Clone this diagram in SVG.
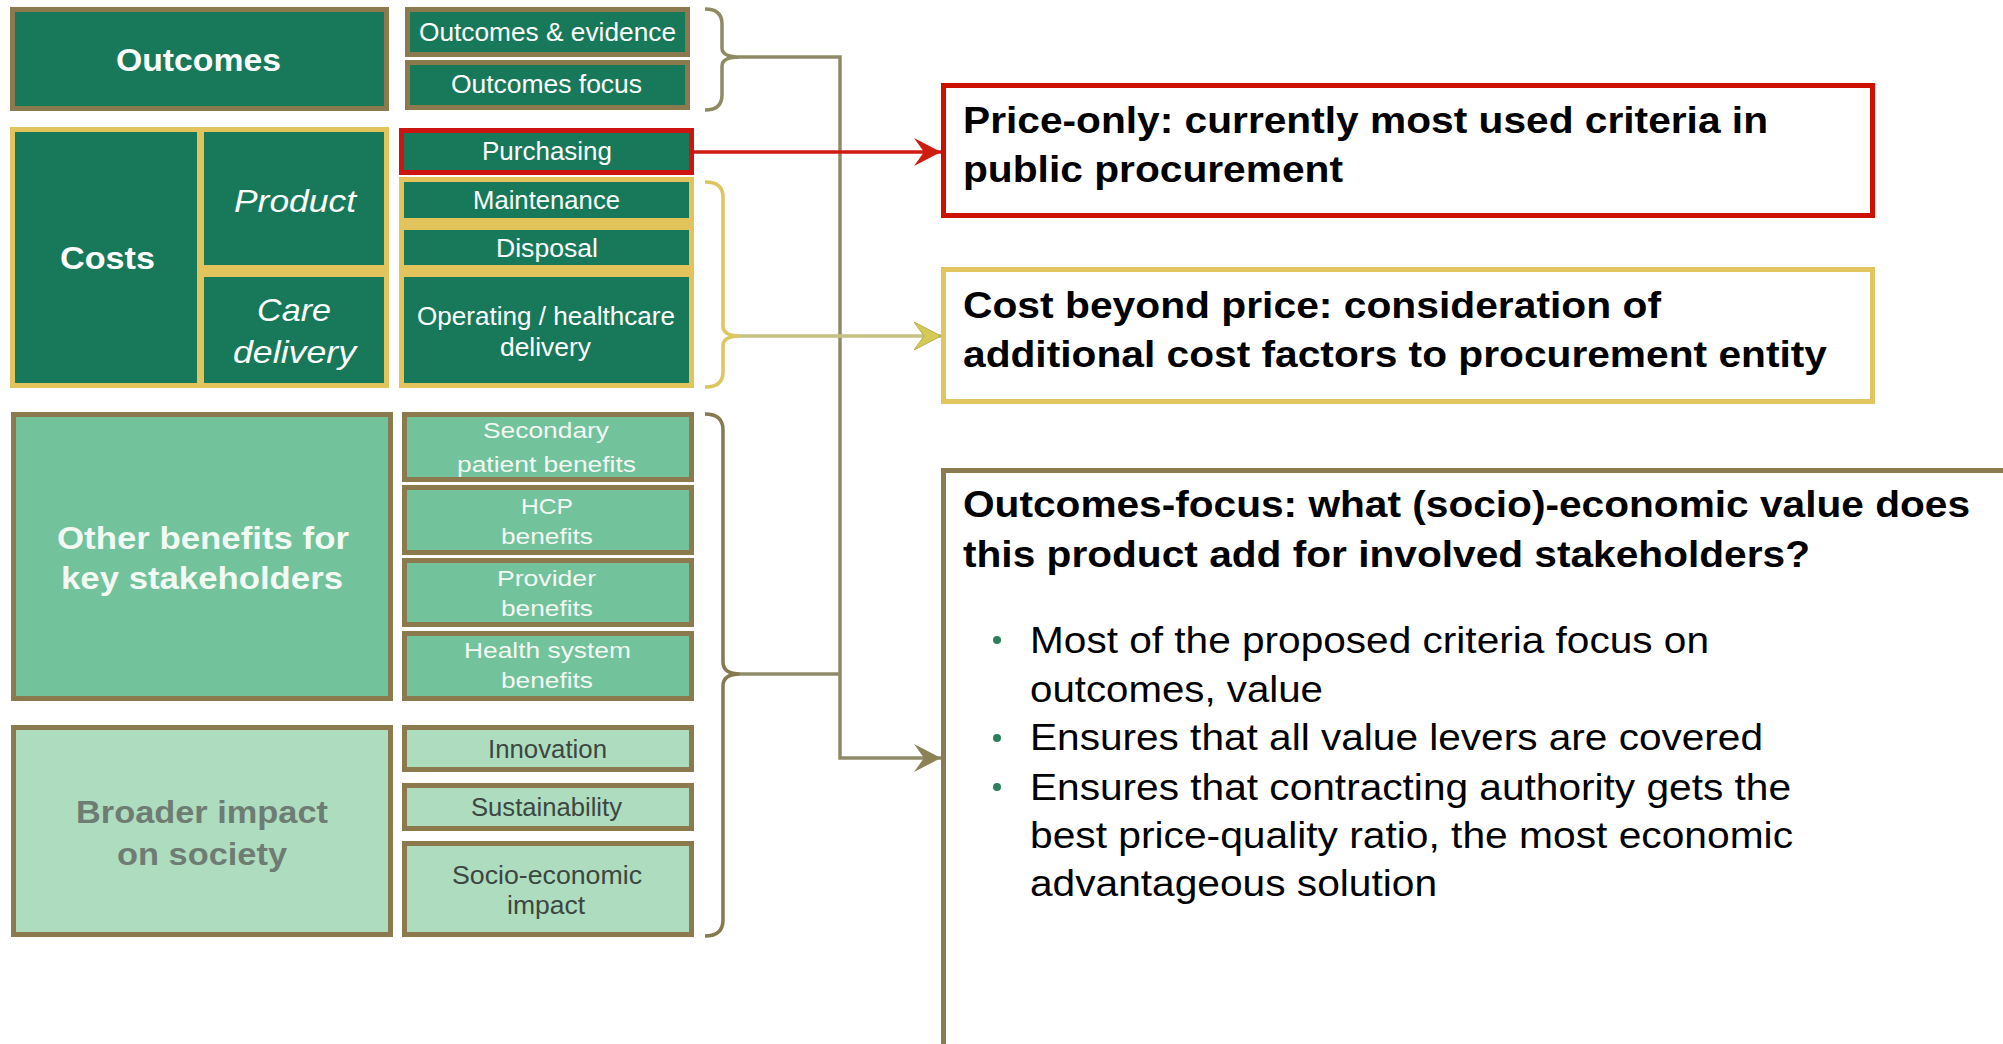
<svg xmlns="http://www.w3.org/2000/svg" width="2003" height="1044" viewBox="0 0 2003 1044">
<style>
text{font-family:"Liberation Sans",Arial,sans-serif}
.dg{fill:#17795A}
.ol{stroke:#8A7A4E;stroke-width:5}
.yb{fill:#E2C35C}
.mg{fill:#72C29C}
.lg{fill:#AEDCBF}
.w{fill:#FFFFFF}
.wl{fill:#F3F9F3}
.b{font-weight:bold}
.it{font-style:italic}
.s25{font-size:25px}
.s22{font-size:22px}
.s26{font-size:26px}
.s32{font-size:32px}
.gy{fill:#6E7D73}
.dk{fill:#3C4741}
.tt{font-size:36px;font-weight:bold;fill:#000}
.bl{font-size:36px;fill:#000}
.con{fill:none;stroke-width:3.5}
</style>
<defs>
<marker id="arrRed" markerUnits="userSpaceOnUse" markerWidth="32" markerHeight="32" viewBox="-28 -16 30 32" refX="0" refY="0" orient="auto"><path d="M0,0 L-27,-14 L-17,0 L-27,14 Z" fill="#CF1B10"/></marker>
<marker id="arrYel" markerUnits="userSpaceOnUse" markerWidth="32" markerHeight="32" viewBox="-28 -16 30 32" refX="0" refY="0" orient="auto"><path d="M0,0 L-27,-14 L-17,0 L-27,14 Z" fill="#D3CB58" stroke="#B8AE48" stroke-width="1"/></marker>
<marker id="arrOl" markerUnits="userSpaceOnUse" markerWidth="32" markerHeight="32" viewBox="-28 -16 30 32" refX="0" refY="0" orient="auto"><path d="M0,0 L-27,-14 L-17,0 L-27,14 Z" fill="#8C8256"/></marker>
</defs>

<g id="connectors">
<path class="con" stroke="#8E8A62" d="M705,9 Q722,9 722,24 V48 Q722,57 740,57 Q722,57 722,66 V95 Q722,110 705,110"/>
<path class="con" stroke="#DCC660" d="M705,182 Q723,182 723,197 V326 Q723,336 740,336 Q723,336 723,346 V372 Q723,387 705,387"/>
<path class="con" stroke="#857A50" d="M705,414 Q723,414 723,430 V662 Q723,674 740,674 Q723,674 723,686 V920 Q723,936 705,936"/>
<path class="con" stroke="#8E8C68" d="M740,57 H840 V758 H941" marker-end="url(#arrOl)"/>
<path class="con" stroke="#8E8C68" d="M740,674 H840"/>
<path class="con" stroke="#CF1B10" d="M694,152 H941" marker-end="url(#arrRed)"/>
<path class="con" stroke="#C4C283" d="M740,336 H941" marker-end="url(#arrYel)"/>
</g>

<g id="outcomes">
<rect class="dg ol" x="12.5" y="9.5" width="374" height="99"/>
<text class="w b s32" x="116" y="71" textLength="165" lengthAdjust="spacingAndGlyphs">Outcomes</text>
</g>
<g id="outcomes-evidence">
<rect class="dg ol" x="407.5" y="9.5" width="280" height="45"/>
<text class="w s25" x="419" y="41" textLength="257" lengthAdjust="spacingAndGlyphs">Outcomes &amp; evidence</text>
</g>
<g id="outcomes-focus">
<rect class="dg ol" x="407.5" y="62.5" width="280" height="45"/>
<text class="w s25" x="451" y="93" textLength="191" lengthAdjust="spacingAndGlyphs">Outcomes focus</text>
</g>

<g id="costs-group">
<rect class="yb" x="10" y="127" width="379" height="261"/>
</g>
<g id="costs">
<rect class="dg" x="15" y="132" width="182" height="251"/>
<text class="w b s32" x="60" y="269" textLength="95" lengthAdjust="spacingAndGlyphs">Costs</text>
</g>
<g id="product">
<rect class="dg" x="204" y="132" width="180" height="133"/>
<text class="w it s32" x="234" y="212" textLength="122" lengthAdjust="spacingAndGlyphs">Product</text>
</g>
<g id="care-delivery">
<rect class="dg" x="204" y="277" width="180" height="106"/>
<text class="w it s32" x="257" y="321" textLength="74" lengthAdjust="spacingAndGlyphs">Care</text>
<text class="w it s32" x="233" y="363" textLength="123" lengthAdjust="spacingAndGlyphs">delivery</text>
</g>

<g id="purchasing">
<rect class="dg" x="401.5" y="130.5" width="290" height="42" stroke="#CC1410" stroke-width="5"/>
<text class="w s25" x="482" y="160" textLength="130" lengthAdjust="spacingAndGlyphs">Purchasing</text>
</g>
<g id="cost-items">
<rect class="yb" x="399" y="177" width="295" height="211"/>
</g>
<g id="maintenance">
<rect class="dg" x="404" y="182" width="285" height="36"/>
<text class="w s25" x="473" y="209" textLength="147" lengthAdjust="spacingAndGlyphs">Maintenance</text>
</g>
<g id="disposal">
<rect class="dg" x="404" y="230" width="285" height="35"/>
<text class="w s25" x="496" y="257" textLength="102" lengthAdjust="spacingAndGlyphs">Disposal</text>
</g>
<g id="operating">
<rect class="dg" x="404" y="277" width="285" height="106"/>
<text class="w s25" x="417" y="325" textLength="258" lengthAdjust="spacingAndGlyphs">Operating / healthcare</text>
<text class="w s25" x="500" y="356" textLength="91" lengthAdjust="spacingAndGlyphs">delivery</text>
</g>

<g id="other-benefits">
<rect class="mg ol" x="13.5" y="414.5" width="377" height="284"/>
<text class="wl b s32" x="57" y="549" textLength="292" lengthAdjust="spacingAndGlyphs">Other benefits for</text>
<text class="wl b s32" x="61" y="589" textLength="282" lengthAdjust="spacingAndGlyphs">key stakeholders</text>
</g>
<g id="secondary">
<rect class="mg ol" x="404.5" y="414.5" width="287" height="65"/>
<text class="wl s22" x="483" y="438" textLength="126" lengthAdjust="spacingAndGlyphs">Secondary</text>
<text class="wl s22" x="457" y="472" textLength="179" lengthAdjust="spacingAndGlyphs">patient benefits</text>
</g>
<g id="hcp">
<rect class="mg ol" x="404.5" y="487.5" width="287" height="65"/>
<text class="wl s22" x="521" y="514" textLength="52" lengthAdjust="spacingAndGlyphs">HCP</text>
<text class="wl s22" x="501" y="544" textLength="92" lengthAdjust="spacingAndGlyphs">benefits</text>
</g>
<g id="provider">
<rect class="mg ol" x="404.5" y="560.5" width="287" height="64"/>
<text class="wl s22" x="497" y="586" textLength="99" lengthAdjust="spacingAndGlyphs">Provider</text>
<text class="wl s22" x="501" y="616" textLength="92" lengthAdjust="spacingAndGlyphs">benefits</text>
</g>
<g id="health-system">
<rect class="mg ol" x="404.5" y="633.5" width="287" height="65"/>
<text class="wl s22" x="464" y="658" textLength="167" lengthAdjust="spacingAndGlyphs">Health system</text>
<text class="wl s22" x="501" y="688" textLength="92" lengthAdjust="spacingAndGlyphs">benefits</text>
</g>

<g id="broader-impact">
<rect class="lg ol" x="13.5" y="727.5" width="377" height="207"/>
<text class="gy b s32" x="76" y="823" textLength="252" lengthAdjust="spacingAndGlyphs">Broader impact</text>
<text class="gy b s32" x="117" y="865" textLength="170" lengthAdjust="spacingAndGlyphs">on society</text>
</g>
<g id="innovation">
<rect class="lg ol" x="404.5" y="727.5" width="287" height="42"/>
<text class="dk s26" x="488" y="758" textLength="119" lengthAdjust="spacingAndGlyphs">Innovation</text>
</g>
<g id="sustainability">
<rect class="lg ol" x="404.5" y="785.5" width="287" height="43"/>
<text class="dk s26" x="471" y="816" textLength="151" lengthAdjust="spacingAndGlyphs">Sustainability</text>
</g>
<g id="socio-economic">
<rect class="lg ol" x="404.5" y="843.5" width="287" height="91"/>
<text class="dk s26" x="452" y="884" textLength="190" lengthAdjust="spacingAndGlyphs">Socio-economic</text>
<text class="dk s26" x="507" y="914" textLength="78" lengthAdjust="spacingAndGlyphs">impact</text>
</g>

<g id="price-only">
<rect x="943.5" y="85.5" width="929" height="130" fill="#FFFFFF" stroke="#CC1100" stroke-width="5"/>
<text class="tt" x="963" y="133" textLength="805" lengthAdjust="spacingAndGlyphs">Price-only: currently most used criteria in</text>
<text class="tt" x="963" y="182" textLength="380" lengthAdjust="spacingAndGlyphs">public procurement</text>
</g>
<g id="cost-beyond-price">
<rect x="943.5" y="269.5" width="929" height="132" fill="#FFFFFF" stroke="#E2C55E" stroke-width="5"/>
<text class="tt" x="963" y="318" textLength="698" lengthAdjust="spacingAndGlyphs">Cost beyond price: consideration of</text>
<text class="tt" x="963" y="367" textLength="864" lengthAdjust="spacingAndGlyphs">additional cost factors to procurement entity</text>
</g>
<g id="outcomes-focus-box">
<rect x="943.5" y="470.5" width="1100" height="620" fill="#FFFFFF" stroke="#8A7C4E" stroke-width="5"/>
<text class="tt" x="963" y="517" textLength="1007" lengthAdjust="spacingAndGlyphs">Outcomes-focus: what (socio)-economic value does</text>
<text class="tt" x="963" y="567" textLength="847" lengthAdjust="spacingAndGlyphs">this product add for involved stakeholders?</text>
<circle cx="997" cy="640" r="4" fill="#2F7F5E"/>
<circle cx="997" cy="738" r="4" fill="#2F7F5E"/>
<circle cx="997" cy="787" r="4" fill="#2F7F5E"/>
<text class="bl" x="1030" y="653" textLength="679" lengthAdjust="spacingAndGlyphs">Most of the proposed criteria focus on</text>
<text class="bl" x="1030" y="702" textLength="293" lengthAdjust="spacingAndGlyphs">outcomes, value</text>
<text class="bl" x="1030" y="750" textLength="733" lengthAdjust="spacingAndGlyphs">Ensures that all value levers are covered</text>
<text class="bl" x="1030" y="800" textLength="761" lengthAdjust="spacingAndGlyphs">Ensures that contracting authority gets the</text>
<text class="bl" x="1030" y="848" textLength="763" lengthAdjust="spacingAndGlyphs">best price-quality ratio, the most economic</text>
<text class="bl" x="1030" y="896" textLength="407" lengthAdjust="spacingAndGlyphs">advantageous  solution</text>
</g>
</svg>
